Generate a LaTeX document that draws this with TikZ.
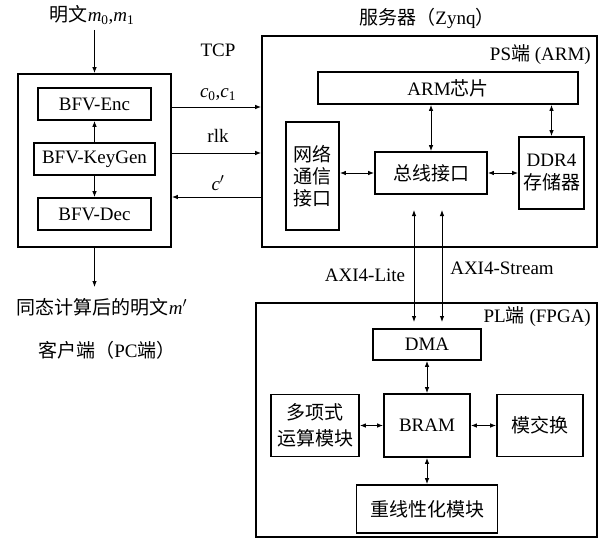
\documentclass[tikz,border=0pt]{standalone}
\usepackage{fontspec}
\setmainfont{Liberation Serif}
\newfontfamily\cjk{Noto Sans CJK SC}
\usetikzlibrary{arrows.meta}
\newcommand\zh[1]{{\cjk #1}}
\begin{document}
\begin{tikzpicture}[x=1pt,y=-1pt,
  every node/.style={font=\fontsize{19}{23}\selectfont, inner sep=0pt},
  box/.style={draw, line width=1.7pt, align=center},
  outer/.style={draw, line width=1.7pt},
  arr/.style={line width=0.9pt, -{Latex[length=6pt,width=4.5pt]}},
  darr/.style={line width=0.9pt, {Latex[length=6pt,width=4.5pt]}-{Latex[length=6pt,width=4.5pt]}}]
\useasboundingbox (0,0) rectangle (601,540);
% client
\node[outer, minimum width=153, minimum height=173] (client) at (94.5,160.5) {};
\node[box, minimum width=113, minimum height=32] (enc) at (94.5,104) {BFV-Enc};
\node[box, minimum width=121, minimum height=32] (keygen) at (94.5,159) {BFV-KeyGen};
\node[box, minimum width=113, minimum height=32] (dec) at (94.5,214) {BFV-Dec};
\node (inlab) at (92,15) {\zh{明文}\textit{m}\textsubscript{0},\textit{m}\textsubscript{1}};
\node (outlab) at (102,307) {\zh{同态计算后的明文}\textit{m}$'$};
\node (clientlab) at (107,350) {\zh{客户端（}PC\zh{端）}};
\coordinate (intop) at (94.5,30);
\coordinate (outbot) at (94.5,287);
\draw[arr] (intop) -- (client.north);
\draw[arr] (client.south) -- (outbot);
\draw[arr] (keygen.north) -- (enc.south);
\draw[arr] (keygen.south) -- (dec.north);
% server
\node[outer, minimum width=335, minimum height=211] (server) at (429.5,141.5) {};
\node (serverlab) at (427,18) {\zh{服务器（}Zynq\zh{）}};
\node[anchor=east] (pslab) at (591,55) {PS\zh{端} (ARM)};
\node[box, minimum width=260, minimum height=32] (arm) at (448,88) {ARM\zh{芯片}};
\node[box, minimum width=53, minimum height=108, font=\fontsize{19}{22}\cjk] (net) at (312.5,176) {网络\\通信\\接口};
\node[box, minimum width=112, minimum height=42] (bus) at (431,173) {\zh{总线接口}};
\node[box, minimum width=65, minimum height=72] (ddr) at (551.5,173) {DDR4\\\zh{存储器}};
\draw[darr] (arm.south -| bus.north) -- (bus.north);
\draw[darr] (arm.south -| ddr.north) -- (ddr.north);
\draw[darr] (net.east |- bus.west) -- (bus.west);
\draw[darr] (bus.east) -- (ddr.west);
% TCP links
\node (tcp) at (218,50) {TCP};
\node (c01) at (218,95) {\textit{c}\textsubscript{0},\textit{c}\textsubscript{1}};
\node (rlk) at (218,136) {rlk};
\node (cp) at (218,183) {\textit{c}$'$};
\draw[arr] (client.east |- 0,107) -- (server.west |- 0,107);
\draw[arr] (client.east |- 0,153) -- (server.west |- 0,153);
\draw[arr] (server.west |- 0,197) -- (client.east |- 0,197);
% PL
\node[outer, minimum width=341, minimum height=234] (pl) at (426.5,420) {};
\node[anchor=east] (pllab) at (591,317) {PL\zh{端} (FPGA)};
\node[box, minimum width=108, minimum height=31] (dma) at (427,344.5) {DMA};
\node[box, minimum width=86, minimum height=63] (bram) at (427,425.5) {BRAM};
\node[box, minimum width=88, minimum height=62, font=\fontsize{19}{26}\cjk] (poly) at (315,425.5) {多项式\\运算模块};
\node[box, minimum width=86, minimum height=62] (ms) at (540,425.5) {\zh{模交换}};
\node[box, minimum width=141, minimum height=48] (relin) at (427,509) {\zh{重线性化模块}};
\draw[darr] (dma.south) -- (bram.north);
\draw[darr] (bram.south) -- (relin.north);
\draw[darr] (poly.east) -- (bram.west);
\draw[darr] (bram.east) -- (ms.west);
% AXI
\coordinate (lt) at (414,210);
\coordinate (lb) at (414,322);
\coordinate (st) at (442,210);
\coordinate (sb) at (442,322);
\draw[darr] (lt) -- (lb);
\draw[darr] (st) -- (sb);
\node (axil) at (365,275) {AXI4-Lite};
\node (axis) at (502,268) {AXI4-Stream};
\end{tikzpicture}
\end{document}
